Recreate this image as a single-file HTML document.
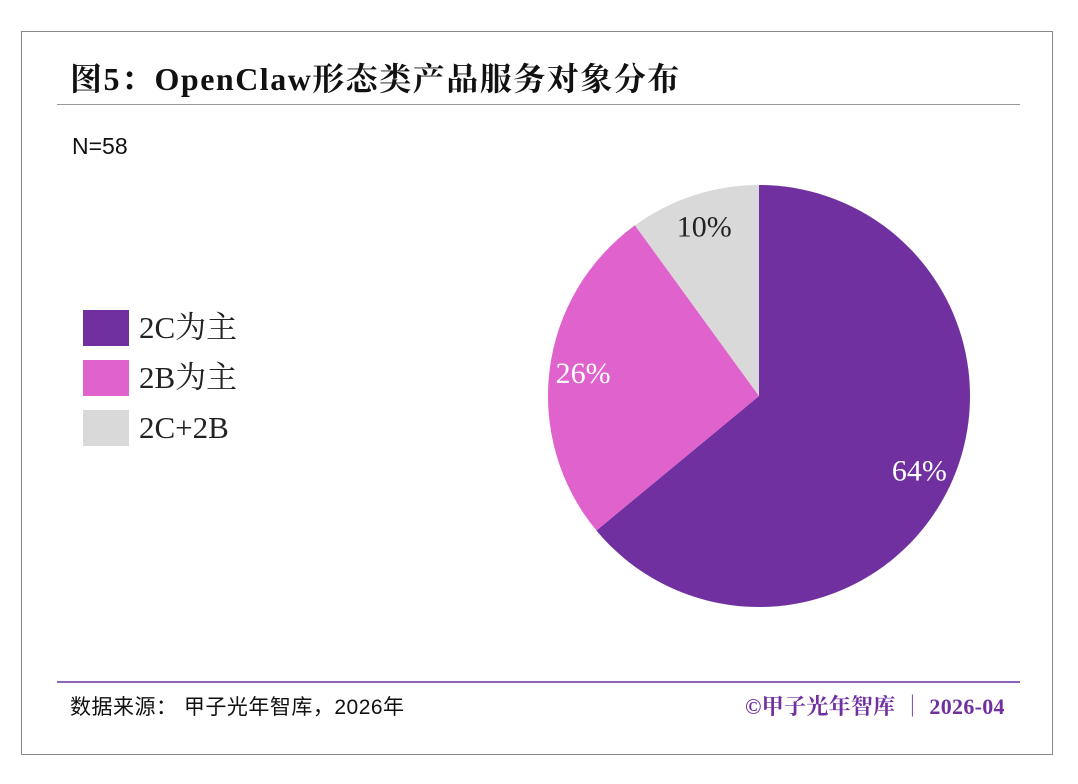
<!DOCTYPE html>
<html><head><meta charset="utf-8">
<style>
body{margin:0;background:#fff;width:1078px;height:784px;position:relative;overflow:hidden;font-family:"Liberation Serif","Noto Serif CJK SC",serif;}
.abs{position:absolute;}
</style></head><body>
<div class="abs" style="left:21px;top:31px;width:1030px;height:722px;border:1px solid #888;"></div>
<div class="abs" style="left:70px;top:54px;font-size:32px;letter-spacing:1.5px;font-weight:bold;color:#111;white-space:nowrap;">图5：OpenClaw形态类产品服务对象分布</div>
<div class="abs" style="left:57px;top:104px;width:963px;height:1px;background:#999;"></div>
<div class="abs" style="left:72px;top:133px;font-family:'Liberation Sans',sans-serif;font-size:23px;color:#111;">N=58</div>
<div class="abs" style="left:83px;top:310px;font-family:'Liberation Serif','Noto Serif CJK SC',serif;font-size:31px;color:#222;">
 <div style="height:50px;display:flex;align-items:flex-start;"><span style="width:46px;height:36px;background:#7030A0;display:inline-block;margin-right:10px"></span><span style="line-height:36px">2C为主</span></div>
 <div style="height:50px;display:flex;align-items:flex-start;"><span style="width:46px;height:36px;background:#E062CC;display:inline-block;margin-right:10px"></span><span style="line-height:36px">2B为主</span></div>
 <div style="height:50px;display:flex;align-items:flex-start;"><span style="width:46px;height:36px;background:#D9D9D9;display:inline-block;margin-right:10px"></span><span style="line-height:36px">2C+2B</span></div>
</div>
<svg class="abs" style="left:0;top:0" width="1078" height="784" id="pie"></svg>
<div class="abs" style="left:57px;top:681px;width:963px;height:2px;background:#8E63B8;"></div>
<div class="abs" style="left:70px;top:691px;font-family:'Liberation Sans','Noto Sans CJK SC',sans-serif;font-size:21px;letter-spacing:0.5px;color:#111;white-space:nowrap;">数据来源： 甲子光年智库，2026年</div>
<div class="abs" style="left:745px;top:690px;font-size:22px;letter-spacing:0.3px;font-weight:bold;color:#7030A0;white-space:nowrap;">©甲子光年智库 ｜ 2026-04</div>
<script>
const categories=["2C为主","2B为主","2C+2B"];
const values=[64,26,10];
const labels=["64%","26%","10%"];
const colors=["#7030A0","#E062CC","#D9D9D9"];
const textColors=["#fff","#fff","#222"];
const svg=document.getElementById('pie');
const cx=759,cy=396,r=211,NS='http://www.w3.org/2000/svg';
const total=values.reduce((a,b)=>a+b,0);
let a0=0;
values.forEach((v,i)=>{
 const a1=a0+v/total*2*Math.PI;
 const p=(a)=>[cx+r*Math.sin(a),cy-r*Math.cos(a)];
 const [x0,y0]=p(a0),[x1,y1]=p(a1);
 const path=document.createElementNS(NS,'path');
 path.setAttribute('d',`M${cx},${cy}L${x0},${y0}A${r},${r} 0 ${a1-a0>Math.PI?1:0} 1 ${x1},${y1}Z`);
 path.setAttribute('fill',colors[i]);
 
 
 svg.appendChild(path);
 const am=(a0+a1)/2,lr=r*0.84;
 const t=document.createElementNS(NS,'text');
 t.setAttribute('x',cx+lr*Math.sin(am));
 t.setAttribute('y',cy-lr*Math.cos(am)+9);
 t.setAttribute('text-anchor','middle');
 t.setAttribute('font-size','30');
 t.setAttribute('font-family','Liberation Serif, serif');
 t.setAttribute('fill',textColors[i]);
 t.textContent=labels[i];
 
 
 svg.appendChild(t);
 a0=a1;
});
</script>
</body></html>
